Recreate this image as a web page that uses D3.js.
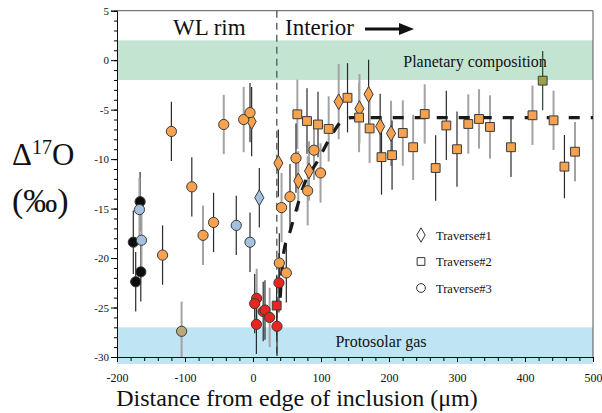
<!DOCTYPE html>
<html>
<head>
<meta charset="utf-8">
<script src="https://cdn.jsdelivr.net/npm/d3@7"></script>
<style>
  body { margin: 0; background: #fff; }
  svg text { font-family: "Liberation Serif", "Times New Roman", serif; fill: #111; }
</style>
</head>
<body>
<script>
// --- data ---
// each point: x (µm), y (Δ17O ‰), e (half error bar), g (colour group), b (bar style: 1 = grey, 2 = black)
var traverse1 = [
    {x: -2,    y: -6.2,  e: 3.5, g: "interior", b: 2},
    {x: 9.3,   y: -13.9, e: 3,   g: "blue",     b: 2},
    {x: 37.3,  y: -10.4, e: 3.4, g: "interior", b: 2},
    {x: 66.6,  y: -12.2, e: 3,   g: "interior", b: 1},
    {x: 82.4,  y: -11.2, e: 3,   g: "interior", b: 1},
    {x: 126,   y: -4.2,  e: 3.8, g: "interior", b: 1},
    {x: 156.5, y: -4.9,  e: 3.5, g: "interior", b: 1},
    {x: 170,   y: -3.45, e: 3.5, g: "interior", b: 2},
    {x: 187,   y: -6.7,  e: 3.3, g: "interior", b: 2},
    {x: 203,   y: -7.4,  e: 3.3, g: "interior", b: 1}
];
var traverse2 = [
    {x: 34.8,  y: -24.8, e: 3,   g: "red",      b: 2},
    {x: 65.2,  y: -5.47, e: 3.5, g: "interior", b: 1},
    {x: 79.4,  y: -6.15, e: 3.3, g: "interior", b: 2},
    {x: 95.6,  y: -6.5,  e: 3.3, g: "interior", b: 2},
    {x: 111.3, y: -6.95, e: 3.3, g: "interior", b: 1},
    {x: 139,   y: -3.8,  e: 3.5, g: "interior", b: 2},
    {x: 156,   y: -5.8,  e: 3.5, g: "interior", b: 1},
    {x: 171.5, y: -6.9,  e: 3.5, g: "interior", b: 1},
    {x: 189,   y: -9.8,  e: 3.8, g: "interior", b: 2},
    {x: 204.5, y: -9.6,  e: 3.5, g: "interior", b: 2},
    {x: 220.3, y: -7.36, e: 3.3, g: "interior", b: 1},
    {x: 235.5, y: -8.8,  e: 3.3, g: "interior", b: 1},
    {x: 252.5, y: -5.44, e: 3,   g: "interior", b: 1},
    {x: 268.6, y: -10.9, e: 3.3, g: "interior", b: 2},
    {x: 284.3, y: -6.6,  e: 3.5, g: "interior", b: 2},
    {x: 300,   y: -9.0,  e: 3.8, g: "interior", b: 2},
    {x: 316.6, y: -6.45, e: 3,   g: "interior", b: 1},
    {x: 332.4, y: -5.94, e: 3,   g: "interior", b: 1},
    {x: 348.5, y: -6.75, e: 3.2, g: "interior", b: 1},
    {x: 379.4, y: -8.8,  e: 3,   g: "interior", b: 2},
    {x: 411,   y: -5.57, e: 3,   g: "interior", b: 1},
    {x: 426,   y: -2.07, e: 3,   g: "planet",   b: 3},
    {x: 442,   y: -6.08, e: 3,   g: "interior", b: 1},
    {x: 458,   y: -10.76, e: 3.2, g: "interior", b: 2},
    {x: 473.5, y: -9.25, e: 3,   g: "interior", b: 1}
];
var traverse3 = [
    {x: -176,  y: -18.4, e: 3.2, g: "black",    b: 2},
    {x: -172.5, y: -22.4, e: 3,  g: "black",    b: 2},
    {x: -166,  y: -14.3, e: 3,   g: "black",    b: 2},
    {x: -165,  y: -21.4, e: 3,   g: "black",    b: 2},
    {x: -167,  y: -15.1, e: 3.2, g: "blue",     b: 1},
    {x: -164,  y: -18.2, e: 3.2, g: "blue",     b: 1},
    {x: -133,  y: -19.7, e: 3,   g: "interior", b: 2},
    {x: -120,  y: -7.2,  e: 3,   g: "interior", b: 2},
    {x: -105,  y: -27.4, e: 3,   g: "tan",      b: 1},
    {x: -90,   y: -12.8, e: 3,   g: "interior", b: 2},
    {x: -73.5, y: -17.7, e: 3,   g: "interior", b: 1},
    {x: -58,   y: -16.4, e: 3,   g: "interior", b: 2},
    {x: -43,   y: -6.5,  e: 3,   g: "interior", b: 1},
    {x: -24.6, y: -16.7, e: 3,   g: "blue",     b: 2},
    {x: -13.7, y: -6.0,  e: 3.3, g: "interior", b: 1},
    {x: -4.4,  y: -18.4, e: 3,   g: "blue",     b: 2},
    {x: -4.4,  y: -5.3,  e: 3,   g: "interior", b: 2},
    {x: 5.4,   y: -24.07, e: 3,  g: "red",      b: 1},
    {x: 2.5,   y: -24.6, e: 3,   g: "red",      b: 2},
    {x: 15,    y: -25.4, e: 3,   g: "red",      b: 2},
    {x: 17.6,  y: -25.25, e: 3,  g: "red",      b: 2},
    {x: 24.5,  y: -26.0, e: 3,   g: "red",      b: 1},
    {x: 5,     y: -26.7, e: 3,   g: "red",      b: 2},
    {x: 35.3,  y: -26.9, e: 3,   g: "red",      b: 2},
    {x: 38.2,  y: -22.5, e: 3,   g: "red",      b: 2},
    {x: 38.7,  y: -20.5, e: 3,   g: "interior", b: 2},
    {x: 42,    y: -14.9, e: 3.5, g: "interior", b: 1},
    {x: 49,    y: -21.5, e: 3,   g: "interior", b: 2},
    {x: 54.4,  y: -13.8, e: 3.3, g: "interior", b: 2},
    {x: 63.2,  y: -9.9,  e: 3.5, g: "interior", b: 2},
    {x: 80.4,  y: -13.2, e: 3.5, g: "interior", b: 1},
    {x: 89.7,  y: -9.1,  e: 3,   g: "interior", b: 1},
    {x: 99.3,  y: -11.4, e: 3,   g: "interior", b: 1}
];
// dashed diffusion-profile curve
var trendX = [40, 45, 55, 65, 75, 95, 113, 130, 145, 500];
var trendY = [-24, -19.5, -17.2, -14.8, -12.6, -10.2, -7.9, -6.2, -5.8, -5.8];

var planetBand = [-2, 2];
var solarBand = [-27, -31];
var rimEdge = 35;
var xTicks = [-200, -100, 0, 100, 200, 300, 400, 500];
var yTicks = [5, 0, -5, -10, -15, -20, -25, -30];
var legendNames = ["Traverse#1", "Traverse#2", "Traverse#3"];

var groups = ["interior", "red", "blue", "black", "tan", "planet"];
var groupColors = ["#f6a24f", "#e8251f", "#a5c1e0", "#0d0d0d", "#b9a979", "#9aa34a"];
var barColors = {1: "#a3a3a3", 2: "#2a2a2a", 3: "#1f4a2a"};

// --- layout ---
var W = 602, H = 413;
var margin = {top: 10.7, right: 9, bottom: 56, left: 117};
var serif = "Liberation Serif, Times New Roman, serif";

var x = d3.scaleLinear().domain([-200, 500]).range([margin.left, W - margin.right]);
var y = d3.scaleLinear().domain([-30, 5]).range([H - margin.bottom, margin.top]);
var color = d3.scaleOrdinal().domain(groups).range(groupColors);

var svg = d3.select("body").append("svg")
    .attr("width", W)
    .attr("height", H);

// bands
svg.append("rect")
    .attr("x", x(-200)).attr("width", x(500) - x(-200))
    .attr("y", y(planetBand[1])).attr("height", y(planetBand[0]) - y(planetBand[1]))
    .attr("fill", "#c3e4d0");
svg.append("rect")
    .attr("x", x(-200)).attr("width", x(500) - x(-200))
    .attr("y", y(solarBand[0])).attr("height", y(-30) - y(solarBand[0]) + 7)
    .attr("fill", "#bfe4f4");

svg.append("text")
    .attr("x", 475).attr("y", 67)
    .attr("text-anchor", "middle")
    .style("font-size", "16px")
    .text("Planetary composition");
svg.append("text")
    .attr("x", 381).attr("y", 347)
    .attr("text-anchor", "middle")
    .style("font-size", "16px")
    .text("Protosolar gas");

// frame top / right
svg.append("path")
    .attr("d", "M" + x(-200) + "," + y(5) + "H" + x(500) + "V" + y(-30))
    .attr("fill", "none").attr("stroke", "#555").attr("stroke-width", 1);

// axes
var yMinor = d3.range(-30, 6, 1);
svg.append("g")
    .attr("transform", "translate(" + x(-200) + ",0)")
    .call(d3.axisLeft(y).tickValues(yMinor).tickSize(3).tickFormat(""))
    .call(function(g) { g.select(".domain").remove(); });
svg.append("g")
    .attr("transform", "translate(" + x(-200) + ",0)")
    .attr("font-family", serif)
    .call(d3.axisLeft(y).tickValues(yTicks).tickSize(6).tickPadding(2).tickFormat(function(d) { return String(d); }))
    .call(function(g) {
        g.attr("font-family", serif);
        g.select(".domain").attr("stroke", "#111");
        g.selectAll("text").style("font-size", "11px");
    });

var xMinor = d3.range(-200, 501, 20);
svg.append("g")
    .attr("transform", "translate(0," + y(-30) + ")")
    .call(d3.axisBottom(x).tickValues(xMinor).tickSize(4).tickFormat(""))
    .call(function(g) { g.select(".domain").remove(); });
svg.append("g")
    .attr("transform", "translate(0," + y(-30) + ")")
    .call(d3.axisBottom(x).tickValues(xTicks).tickSize(5).tickPadding(11).tickFormat(function(d) { return String(d); }))
    .call(function(g) {
        g.attr("font-family", serif);
        g.select(".domain").attr("stroke", "#111");
        g.selectAll("text").style("font-size", "12px");
    });

// rim / interior boundary
svg.append("line")
    .attr("x1", x(rimEdge)).attr("x2", x(rimEdge))
    .attr("y1", y(5)).attr("y2", y(-30))
    .attr("stroke", "#56625e").attr("stroke-width", 1.4)
    .attr("stroke-dasharray", "7,5");

// region labels
svg.append("text").attr("x", 173).attr("y", 35).style("font-size", "23px").text("WL rim");
svg.append("text").attr("x", 285).attr("y", 35).style("font-size", "23px").text("Interior");
svg.append("line")
    .attr("x1", 365).attr("x2", 402).attr("y1", 29).attr("y2", 29)
    .attr("stroke", "#111").attr("stroke-width", 3);
svg.append("path")
    .attr("d", "M399,23 L414,29 L399,35 Z")
    .attr("fill", "#111");

// error bars
var allPts = [];
[traverse1, traverse2, traverse3].forEach(function(arr, i) {
    arr.forEach(function(d) { allPts.push({x: d.x, y: d.y, e: d.e, g: d.g, b: d.b, t: i}); });
});

svg.append("g").selectAll("line")
    .data(allPts)
    .enter()
    .append("line")
    .attr("x1", function(d) { return x(d.x); })
    .attr("x2", function(d) { return x(d.x); })
    .attr("y1", function(d) { return y(d.y + d.e); })
    .attr("y2", function(d) { return Math.min(y(d.y - d.e), y(-30)); })
    .attr("stroke", function(d) { return barColors[d.b]; })
    .attr("stroke-width", function(d) { return d.b == 1 ? 2 : 1.2; });

// trend curve
var trendPts = trendX.map(function(v, i) { return [v, trendY[i]]; });
svg.append("path")
    .datum(trendPts)
    .attr("d", d3.line().x(function(d) { return x(d[0]); }).y(function(d) { return y(d[1]); }).curve(d3.curveMonotoneX))
    .attr("fill", "none")
    .attr("stroke", "#1a1a1a")
    .attr("stroke-width", 3.2)
    .attr("stroke-dasharray", "11,11");

// markers
var shapes = [d3.symbolDiamond, d3.symbolSquare, d3.symbolCircle];
var sizes = [72, 78, 82];

svg.append("g").selectAll("path")
    .data(allPts)
    .enter()
    .append("path")
    .attr("transform", function(d) { return "translate(" + x(d.x) + "," + y(d.y) + ")"; })
    .attr("d", function(d) { return d3.symbol().type(shapes[d.t]).size(sizes[d.t])(); })
    .attr("fill", function(d) { return color(d.g); })
    .attr("stroke", "#3a3a3a")
    .attr("stroke-width", 1);

// legend
var legend = svg.append("g").attr("transform", "translate(421,235)");
legend.selectAll("path")
    .data(legendNames)
    .enter()
    .append("path")
    .attr("transform", function(d, i) { return "translate(0," + (i * 26.5) + ")"; })
    .attr("d", function(d, i) { return d3.symbol().type(shapes[i]).size(60)(); })
    .attr("fill", "#fff")
    .attr("stroke", "#333")
    .attr("stroke-width", 1);
legend.selectAll("text")
    .data(legendNames)
    .enter()
    .append("text")
    .attr("x", 15)
    .attr("y", function(d, i) { return i * 26.5 + 4.5; })
    .style("font-size", "12.5px")
    .text(function(d) { return d; });

// axis titles
var yTitle = svg.append("text").attr("x", 12).attr("y", 165).style("font-size", "31px");
yTitle.append("tspan").text("Δ");
yTitle.append("tspan").attr("dy", -11).style("font-size", "20px").text("17");
yTitle.append("tspan").attr("dy", 11).text("O");
svg.append("text").attr("x", 12).attr("y", 212).style("font-size", "34px").text("(‰)");

svg.append("text")
    .attr("x", 297).attr("y", 406)
    .attr("text-anchor", "middle")
    .style("font-size", "24px")
    .text("Distance from edge of inclusion (μm)");
</script>
</body>
</html>
